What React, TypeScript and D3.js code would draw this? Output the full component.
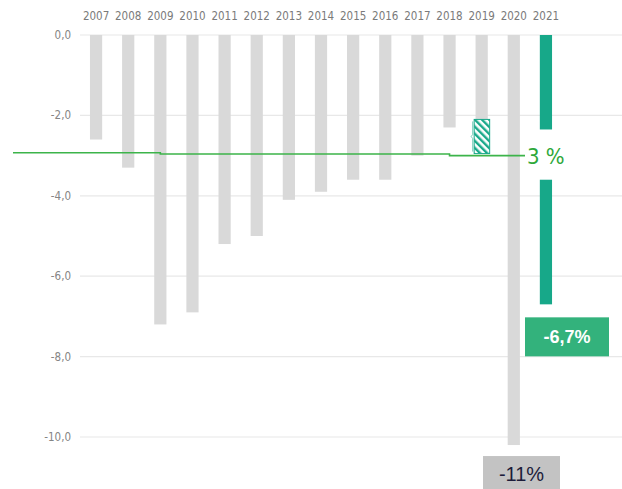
import React from 'react';
import * as d3 from 'd3';

const years = ["2007", "2008", "2009", "2010", "2011", "2012", "2013", "2014", "2015", "2016", "2017", "2018", "2019", "2020", "2021"];
const deficits = [-2.6, -3.3, -7.2, -6.9, -5.2, -5.0, -4.1, -3.9, -3.6, -3.6, -3.0, -2.3, -2.1, -10.2, -6.7];
const yTicks = [0, -2, -4, -6, -8, -10];

// 2021 bar is cut where the "3 %" label sits
const breakYear = "2021";
const breakRange = [-2.35, -3.6];

// hatched estimate on top of 2019
const hatchYear = "2019";
const hatchRange = [-2.1, -2.95];

// 3% limit line, steps at these years
const limitSteps = ["2009", "2018"];
const limitValues = [-2.93, -2.96, -3.0];

const callouts = [
  { year: "2021", text: "-6,7%", value: -6.7 },
  { year: "2020", text: "-11%", value: -10.2 },
];

const W = 622;
const H = 489;
const fmt = (v: number) => d3.format(".1f")(v).replace(".", ",").replace("−", "-");

export default function App() {
  const x = d3.scaleBand<string>()
    .domain(years)
    .range([80, 562])
    .paddingInner(0.62)
    .paddingOuter(0.31);
  const y = d3.scaleLinear().domain([0, -10]).range([35, 437]);
  const bw = x.bandwidth();
  const cx = (yr: string) => (x(yr) as number) + bw / 2;

  const limitPts: [number, number][] = [
    [13, y(limitValues[0])],
    [cx(limitSteps[0]), y(limitValues[1])],
    [cx(limitSteps[1]), y(limitValues[2])],
    [525, y(limitValues[2])],
  ];
  const limitLine = d3.line().curve(d3.curveStepAfter)(limitPts) as string;

  const hx0 = cx(hatchYear) - 8;
  const hy0 = y(hatchRange[0]);
  const hy1 = y(hatchRange[1]);

  const teal = "#17a889";
  const green = "#3cb44a";
  const font = '"Liberation Sans Narrow", "DejaVu Sans Condensed", sans-serif';

  return (
    <svg width={W} height={H} style={{ position: "absolute", left: 0, top: 0, background: "#fff" }}>
      <defs>
        <pattern id="hatch" width="5" height="5" patternUnits="userSpaceOnUse" patternTransform="rotate(-45)">
          <rect width="5" height="5" fill="#fff" />
          <rect width="2.4" height="5" fill={teal} />
        </pattern>
      </defs>

      {yTicks.map(t => (
        <g key={t}>
          <line x1={80} x2={W} y1={y(t)} y2={y(t)} stroke="#e8e8e8" strokeWidth={1.2} />
          <text x={71} y={y(t)} dy="0.35em" textAnchor="end" fontFamily={font} fontSize={11.5} fill="#858585">{fmt(t)}</text>
        </g>
      ))}

      {years.map(yr => (
        <text key={yr} x={cx(yr)} y={20} textAnchor="middle" fontFamily={font} fontSize={11.5} fill="#7a7a7a">{yr}</text>
      ))}

      {years.map((yr, i) => {
        const v = deficits[i];
        if (yr === breakYear) {
          return (
            <g key={yr}>
              <rect x={x(yr)} y={y(0)} width={bw} height={y(breakRange[0]) - y(0)} fill={teal} />
              <rect x={x(yr)} y={y(breakRange[1])} width={bw} height={y(v) - y(breakRange[1])} fill={teal} />
            </g>
          );
        }
        return <rect key={yr} x={x(yr)} y={y(0)} width={bw} height={y(v) - y(0)} fill="#d9d9d9" />;
      })}

      <rect x={hx0 + 0.5} y={hy0} width={15.5} height={hy1 - hy0} fill="url(#hatch)" stroke={teal} strokeWidth={1} />
      <path d={`M${hx0 - 1},${hy0 + 2} v${(hy1 - hy0) / 2 - 4} l-1.5,2 l1.5,2 v${(hy1 - hy0) / 2 - 4}`} fill="none" stroke={teal} strokeWidth={0.8} opacity={0.7} />

      <path d={limitLine} fill="none" stroke={green} strokeWidth={1.6} />
      <text x={527} y={y(-3)} dy="0.36em" fontFamily={font} fontSize={22} fill="#2ea83a">3 %</text>

      {callouts.map(c => {
        const isBar = c.year === breakYear;
        const bx = isBar ? 525 : 483;
        const by = isBar ? y(c.value) + 13 : y(c.value) + 11;
        const bwid = isBar ? 84 : 77;
        const bh = isBar ? 39 : 36;
        return (
          <g key={c.year}>
            <rect x={bx} y={by} width={bwid} height={bh} fill={isBar ? "#33b27c" : "#c3c3c3"} />
            <text x={bx + bwid / 2} y={by + bh / 2} dy="0.36em" textAnchor="middle"
              fontFamily='"Liberation Sans", Arial, sans-serif' fontSize={isBar ? 18 : 20}
              fontWeight={isBar ? 600 : 400} fill={isBar ? "#fff" : "#1c1c3a"}>{c.text}</text>
          </g>
        );
      })}
    </svg>
  );
}
